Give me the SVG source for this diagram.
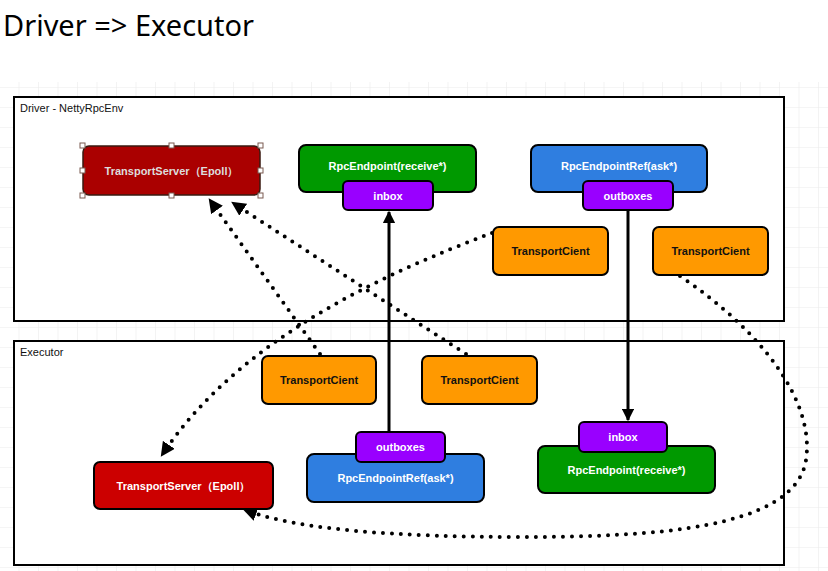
<svg xmlns="http://www.w3.org/2000/svg" width="828" height="571" viewBox="0 0 828 571">
<style>
.t{font-family:"Liberation Sans",Arial,sans-serif;font-size:11px;text-anchor:middle;dominant-baseline:central;font-weight:bold}
.w{fill:#ffffff}
.k{fill:#111111}
.nb{stroke:#000;stroke-width:2}
.frame{fill:#ffffff;stroke:#000;stroke-width:2}
.lbl{font-family:"Liberation Sans",Arial,sans-serif;font-size:11px;fill:#111}
.dot{fill:none;stroke:#000;stroke-width:4;stroke-linecap:round;stroke-dasharray:0 9}
.solid{fill:none;stroke:#000;stroke-width:3}
.h{fill:#fff;stroke:#7a5a50;stroke-width:1}
</style>
<defs>
<pattern id="grid" x="0" y="8" width="19.5" height="20" patternUnits="userSpaceOnUse">
<path d="M19.5 0 V20 M0 20 H19.5" fill="none" stroke="#ececec" stroke-width="1.2"/>
</pattern>
<marker id="ah" viewBox="0 0 10 10" refX="9" refY="5" markerWidth="4.2" markerHeight="4.2" orient="auto" markerUnits="strokeWidth">
<path d="M0 0 L10 5 L0 10 z" fill="#000"/>
</marker>
<marker id="ad" viewBox="0 0 10 10" refX="6" refY="5" markerWidth="3.6" markerHeight="3.6" orient="auto" markerUnits="strokeWidth">
<path d="M0 0 L10 5 L0 10 z" fill="#000"/>
</marker>
</defs>
<rect width="828" height="571" fill="#ffffff"/>
<rect x="0" y="82" width="828" height="489" fill="url(#grid)"/>
<text x="3" y="36" font-family="'Noto Sans','Liberation Sans',sans-serif" font-size="29" fill="#000">Driver =&gt; Executor</text>

<g id="driver-frame">
<rect class="frame" x="14" y="97" width="770" height="224"/>
<text class="lbl" x="20" y="112">Driver - NettyRpcEnv</text>
</g>
<g id="executor-frame">
<rect class="frame" x="14" y="341" width="770" height="224"/>
<text class="lbl" x="20" y="356">Executor</text>
</g>

<g id="connectors">
<path class="solid" d="M389 432 V212" marker-end="url(#ah)"/>
<path class="solid" d="M628 210 V420" marker-end="url(#ah)"/>
<path class="dot" d="M320 354 L212 203" marker-end="url(#ad)"/>
<path class="dot" d="M466 354 L236 205" marker-end="url(#ad)"/>
<path class="dot" d="M492 233 C380 275 240 340 164 452" marker-end="url(#ad)"/>
<path class="dot" d="M680 276 C760 330 815 400 806 460 C795 530 650 537 520 537 C400 537 300 530 248 511" marker-end="url(#ad)"/>
</g>

<g id="d-transportserver">
<rect x="83" y="146" width="177" height="49" rx="6" fill="#aa0000" stroke="#3a1a10" stroke-width="1.5"/>
<text class="t" x="171.5" y="170.5" fill="#dddddd">TransportServer（Epoll）</text>
<rect class="h" x="80" y="143" width="5" height="5"/>
<rect class="h" x="169" y="143" width="5" height="5"/>
<rect class="h" x="258" y="143" width="5" height="5"/>
<rect class="h" x="80" y="168" width="5" height="5"/>
<rect class="h" x="258" y="168" width="5" height="5"/>
<rect class="h" x="80" y="193" width="5" height="5"/>
<rect class="h" x="169" y="193" width="5" height="5"/>
<rect class="h" x="258" y="193" width="5" height="5"/>
</g>

<g id="d-rpcendpoint">
<rect class="nb" x="299" y="145" width="177" height="47" rx="7" fill="#009900"/>
<text class="t w" x="387.5" y="166">RpcEndpoint(receive*)</text>
</g>
<g id="d-inbox">
<rect class="nb" x="343" y="181" width="90" height="29" rx="5" fill="#9900ff"/>
<text class="t w" x="388" y="195.5">inbox</text>
</g>

<g id="d-rpcendpointref">
<rect class="nb" x="531" y="145" width="176" height="47" rx="7" fill="#2f7ee0"/>
<text class="t w" x="619" y="166">RpcEndpointRef(ask*)</text>
</g>
<g id="d-outboxes">
<rect class="nb" x="583" y="181" width="90" height="29" rx="5" fill="#9900ff"/>
<text class="t w" x="628" y="195.5">outboxes</text>
</g>

<g id="d-client1">
<rect class="nb" x="493" y="227" width="115" height="48" rx="6" fill="#ff9900"/>
<text class="t k" x="550.5" y="251">TransportCient</text>
</g>
<g id="d-client2">
<rect class="nb" x="653" y="227" width="115" height="48" rx="6" fill="#ff9900"/>
<text class="t k" x="710.5" y="251">TransportCient</text>
</g>

<g id="e-client1">
<rect class="nb" x="262" y="356" width="114" height="48" rx="6" fill="#ff9900"/>
<text class="t k" x="319" y="380">TransportCient</text>
</g>
<g id="e-client2">
<rect class="nb" x="422" y="356" width="115" height="48" rx="6" fill="#ff9900"/>
<text class="t k" x="479.5" y="380">TransportCient</text>
</g>

<g id="e-transportserver">
<rect class="nb" x="94" y="462" width="179" height="47" rx="6" fill="#cc0000"/>
<text class="t w" x="183.5" y="485.5">TransportServer（Epoll）</text>
</g>

<g id="e-rpcendpointref">
<rect class="nb" x="307" y="454" width="177" height="48" rx="7" fill="#2f7ee0"/>
<text class="t w" x="395.5" y="478">RpcEndpointRef(ask*)</text>
</g>
<g id="e-outboxes">
<rect class="nb" x="356" y="432" width="89" height="30" rx="5" fill="#9900ff"/>
<text class="t w" x="400.5" y="446.5">outboxes</text>
</g>

<g id="e-rpcendpoint">
<rect class="nb" x="538" y="446" width="177" height="47" rx="7" fill="#009900"/>
<text class="t w" x="626.5" y="469.5">RpcEndpoint(receive*)</text>
</g>
<g id="e-inbox">
<rect class="nb" x="579" y="422" width="88" height="30" rx="5" fill="#9900ff"/>
<text class="t w" x="623" y="436.5">inbox</text>
</g>
</svg>
